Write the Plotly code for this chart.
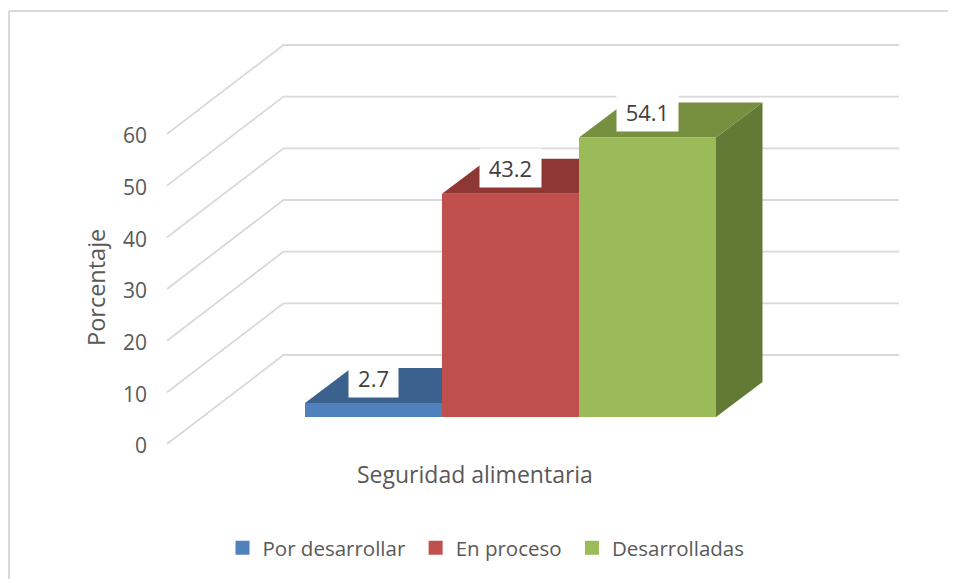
import plotly.graph_objects as go

# data
categories = ["Por desarrollar", "En proceso", "Desarrolladas"]
values = [2.7, 43.2, 54.1]
y_ticks = [0, 10, 20, 30, 40, 50, 60]

front_colors = ["#4F81BD", "#C0504D", "#9BBB59"]
top_colors = ["#3B618E", "#8E3735", "#76903F"]
side_colors = ["#385D8A", "#772C2A", "#637A35"]

# the page keeps an 8 px body margin, so every pixel below is target - 8
PAGE = 8
W, H = 956 - PAGE, 579 - PAGE
PX_X = 137.0    # pixels per bar width
PX_Y = 5.167    # pixels per percentage point
X0_PX = 373.5 - PAGE   # pixel centre of the first bar
Y0_PX = 444.0 - PAGE   # pixel of value 0 on the front edge of the wall

# oblique projection of the fake 3D box, in axis units
WALL_LEFT = (167 - PAGE - X0_PX) / PX_X
WALL_RIGHT = (899 - PAGE - X0_PX) / PX_X
WALL_DX = 116.5 / PX_X
WALL_DY = 89 / PX_Y
BAR_FLOOR = 27 / PX_Y
BAR_DX = 46.5 / PX_X
BAR_DY = 35 / PX_Y

TEXT = "#595959"
GRID = "#D9D9D9"
FONT = "Open Sans"

x_range = [-X0_PX / PX_X, (W - X0_PX) / PX_X]
y_range = [(Y0_PX - H) / PX_Y, Y0_PX / PX_Y]


def paper_x(px):
    return (px - PAGE) / W


def paper_y(px):
    return 1 - (px - PAGE) / H


fig = go.Figure()

# side wall and back wall gridlines
for v in y_ticks:
    fig.add_trace(go.Scatter(
        x=[WALL_LEFT, WALL_LEFT + WALL_DX, WALL_RIGHT],
        y=[v, v + WALL_DY, v + WALL_DY],
        mode="lines", line=dict(color=GRID, width=1.8),
        showlegend=False, hoverinfo="skip",
    ))

# top and side faces, the bars on the overlay axes hide what is behind them
for i, v in enumerate(values):
    left, right = i - 0.5, i + 0.5
    top = BAR_FLOOR + v
    fig.add_trace(go.Scatter(
        x=[right, right + BAR_DX, right + BAR_DX, right, right],
        y=[BAR_FLOOR, BAR_FLOOR + BAR_DY, top + BAR_DY, top, BAR_FLOOR],
        mode="lines", fill="toself", fillcolor=side_colors[i],
        line=dict(width=0), showlegend=False, hoverinfo="skip",
    ))
    fig.add_trace(go.Scatter(
        x=[left, left + BAR_DX, right + BAR_DX, right, left],
        y=[top, top + BAR_DY, top + BAR_DY, top, top],
        mode="lines", fill="toself", fillcolor=top_colors[i],
        line=dict(width=0), showlegend=False, hoverinfo="skip",
    ))

# front faces
for i, v in enumerate(values):
    fig.add_trace(go.Bar(
        x=[i], y=[v], base=BAR_FLOOR, width=1,
        marker=dict(color=front_colors[i], line=dict(width=0)),
        xaxis="x2", yaxis="y2", showlegend=False, name=categories[i],
    ))

# legend entries, the no-break space widens the gap to the next entry
for i, name in enumerate(categories):
    fig.add_trace(go.Scatter(
        x=[None], y=[None], mode="markers",
        name=name + ("\u00a0" if i < 2 else ""),
        marker=dict(symbol="square", size=14, color=front_colors[i]),
    ))

# data labels in white boxes
for i, v in enumerate(values):
    label = f"{v:.1f}"
    fig.add_annotation(
        x=i, y=BAR_FLOOR + v + 25.5 / PX_Y, xref="x2", yref="y2",
        text=label, showarrow=False,
        width=11.7 * len(label) + 12, height=36,
        bgcolor="white", font=dict(family=FONT, size=22, color="#404040"),
    )

fig.add_annotation(
    x=paper_x(96), y=paper_y(288), xref="paper", yref="paper", text="Porcentaje",
    xanchor="center", yanchor="middle",
    textangle=-90, showarrow=False, font=dict(family=FONT, size=23.5, color=TEXT),
)
fig.add_annotation(
    x=paper_x(474.5), y=paper_y(474), xref="paper", yref="paper",
    xanchor="center", yanchor="middle",
    text="Seguridad alimentaria", showarrow=False,
    font=dict(family=FONT, size=23, color=TEXT),
)

# chart frame, open on the right and at the bottom
fig.add_shape(type="line", xref="paper", yref="paper", x0=paper_x(9), x1=1,
              y0=paper_y(11), y1=paper_y(11), line=dict(color=GRID, width=2))
fig.add_shape(type="line", xref="paper", yref="paper", x0=paper_x(9), x1=paper_x(9),
              y0=0, y1=paper_y(11), line=dict(color=GRID, width=2))

fig.update_layout(
    width=W, height=H,
    margin=dict(l=0, r=0, t=0, b=0),
    paper_bgcolor="white", plot_bgcolor="white",
    barmode="overlay",
    font=dict(family=FONT, size=20, color=TEXT),
    xaxis=dict(visible=False, range=x_range),
    yaxis=dict(
        range=y_range, tickvals=y_ticks, anchor="free", position=paper_x(147),
        showgrid=False, zeroline=False, showline=False, ticks="", ticklabelshift=2,
        tickfont=dict(family=FONT, size=21, color=TEXT),
    ),
    xaxis2=dict(visible=False, range=x_range, overlaying="x"),
    yaxis2=dict(visible=False, range=y_range, overlaying="y"),
    legend=dict(
        orientation="h", x=paper_x(486), y=paper_y(548), xanchor="center", yanchor="middle",
        font=dict(family=FONT, size=20.5, color=TEXT), bgcolor="rgba(0,0,0,0)",
    ),
)

fig.write_html("out.html")
